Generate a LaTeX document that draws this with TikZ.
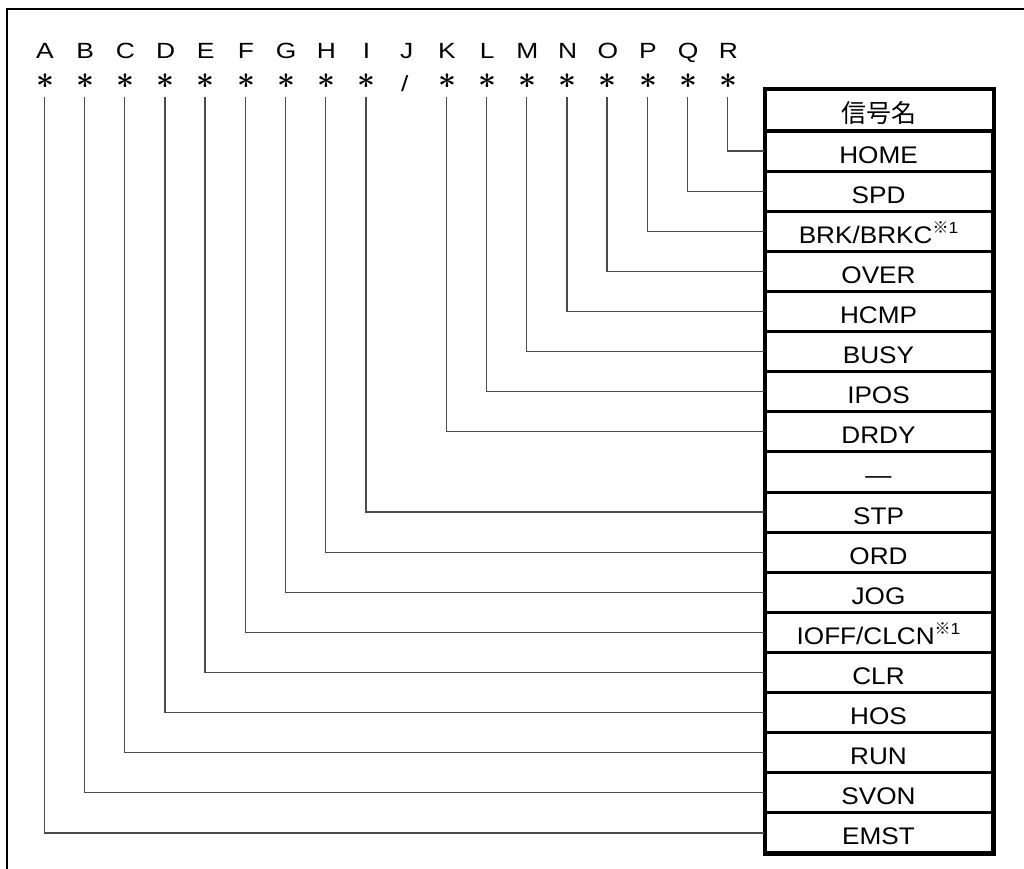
\documentclass[tikz,border=0pt]{standalone}
\usepackage{fontspec}
\setmainfont{Liberation Sans}
\newfontfamily\cjk{Noto Sans CJK JP}
\newfontfamily\stretchedA[FakeStretch=1.2]{Liberation Sans}
\newfontfamily\stretchedB[FakeStretch=1.09]{Liberation Sans}
\newcommand{\mynote}{\raisebox{10pt}{\fontsize{16}{16}\selectfont{\cjk ※}1}}
\begin{document}
\begin{tikzpicture}[x=1pt,y=-1pt,
  frame/.style={line width=2pt},
  conn/.style={draw=black!70, line width=1.3pt},
  lbl/.style={anchor=base, inner sep=0pt, font=\fontsize{22}{26}\stretchedA},
  astk/.style={inner sep=0pt, scale=1.25, font=\boldmath\fontsize{24}{24}\selectfont},
  rowbox/.style={draw=black, line width=3pt, minimum width=227pt, minimum height=40.11pt,
    inner sep=0pt, text height=24pt, text depth=0pt, font=\fontsize{24}{28}\stretchedB},
  headbox/.style={minimum width=227pt, minimum height=42pt, inner sep=0pt,
    text height=24pt, text depth=0pt, font=\fontsize{25}{28}\selectfont\cjk},
  outer/.style={line width=4pt},
]
\useasboundingbox (0,0) rectangle (1024,868);
\draw[frame] (6.7,880) -- (6.7,9) -- (1040,9);

% table
\node[headbox] (h) at (878.5,110) {信号名};
\foreach \t [count=\k] in {HOME,SPD,BRK/BRKC\mynote,OVER,HCMP,BUSY,IPOS,DRDY,—,STP,ORD,JOG,IOFF/CLCN\mynote,CLR,HOS,RUN,SVON,EMST}
  \node[rowbox] (r\k) at (878.5,{131+40.11*(\k-0.5)}) {\t};
\draw[outer] (h.north west) rectangle (r18.south east);
\draw[outer] (h.south west) -- (h.south east);

% letters and asterisks
\foreach \L [count=\i from 0] in {A,B,C,D,E,F,G,H,I,J,K,L,M,N,O,P,Q,R} {
  \node[lbl] (l\L) at ({45+40.2*\i},58.5) {\L};
}
\foreach \L [count=\i from 0] in {A,B,C,D,E,F,G,H,I,K,L,M,N,O,P,Q,R} {
  \pgfmathtruncatemacro{\ix}{\i<9 ? \i : \i+1}
  \node[astk] (s\L) at ({45+40.2*\ix},81.5) {$\ast$};
  \coordinate (c\L) at ({45+40.2*\ix-0.7},97);
}
\node[lbl] (sJ) at ({45+40.2*9-2},91.5) {/};

% connectors
\foreach \L/\k in {R/1,Q/2,P/3,O/4,N/5,M/6,L/7,K/8,I/10,H/11,G/12,F/13,E/14,D/15,C/16,B/17,A/18}
  \draw[conn] (c\L) |- (r\k.west);
\end{tikzpicture}
\end{document}
